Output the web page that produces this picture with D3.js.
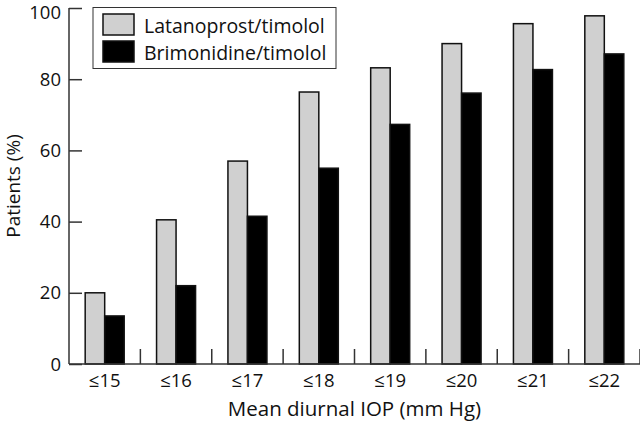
<!DOCTYPE html>
<html><head><meta charset="utf-8">
<script src="https://cdn.jsdelivr.net/npm/d3@7"></script>
<style>body{margin:0;background:#fff}svg{display:block}text{font-family:"Century Gothic","Open Sans",Lato,sans-serif;fill:#111}</style>
</head><body><svg id="c" width="640" height="422"></svg>
<script>
const categories = ["≤15","≤16","≤17","≤18","≤19","≤20","≤21","≤22"];
const latanoprost = [20, 40.5, 57, 76.4, 83.2, 90, 95.6, 97.8];
const brimonidine = [13.5, 22, 41.5, 55, 67.3, 76.1, 82.7, 87.1];
const seriesNames = ["Latanoprost/timolol","Brimonidine/timolol"];
const yTicks = [0,20,40,60,80,100];

const svg = d3.select("#c");
const L = 69, R = 640, T = 8, B = 364;
const x = d3.scaleBand().domain(categories).range([L, R]).paddingInner(0).paddingOuter(0);
const y = d3.scaleLinear().domain([0,100]).range([B, T]);
const inner = d3.scaleBand().domain([0,1]).range([0, x.bandwidth()]).paddingOuter(0.83).paddingInner(0);
const colors = ["#d0d0d0","#000"];

// bars
const g = svg.append("g");
categories.forEach((c,i) => {
  [latanoprost[i], brimonidine[i]].forEach((v,s) => {
    g.append("rect")
      .attr("x", x(c) + inner(s))
      .attr("y", y(v))
      .attr("width", inner.bandwidth())
      .attr("height", y(0) - y(v))
      .attr("fill", colors[s])
      .attr("stroke", "#111").attr("stroke-width", 1.5);
  });
});

// y axis
const ya = svg.append("g").attr("transform", `translate(${L},0)`)
  .call(d3.axisRight(y).tickValues(yTicks).tickSize(13).tickFormat(""));
ya.select(".domain").attr("d", `M0,${T}V${B}`).attr("stroke","#333").attr("stroke-width",1.5);
ya.selectAll(".tick line").attr("stroke","#333").attr("stroke-width",1.5);
svg.append("g").selectAll("text").data(yTicks).join("text")
  .attr("x", 61).attr("y", d => Math.max(y(d), 12)).attr("dy","0.36em")
  .attr("text-anchor","end").attr("font-size", 18.5).text(d => d);

// x axis
const xa = svg.append("g").attr("transform", `translate(0,${B})`)
  .call(d3.axisBottom(x).tickSize(0).tickFormat(""));
xa.select(".domain").attr("d", `M${L},0H${R}`).attr("stroke","#333").attr("stroke-width",1.5);
svg.append("g").selectAll("line").data(categories).join("line")
  .attr("x1", d => x(d) + x.bandwidth()).attr("x2", d => x(d) + x.bandwidth())
  .attr("y1", B).attr("y2", B - 15).attr("stroke","#333").attr("stroke-width",1.5);
svg.append("g").selectAll("text").data(categories).join("text")
  .attr("x", d => x(d) + x.bandwidth()/2).attr("y", 387)
  .attr("text-anchor","middle").attr("font-size", 18.5).text(d => d);

svg.append("text").attr("x", (L+R)/2).attr("y", 416).attr("text-anchor","middle")
  .attr("font-size", 20.5).text("Mean diurnal IOP (mm Hg)");
svg.append("text").attr("transform", `translate(20,${(T+B)/2}) rotate(-90)`)
  .attr("text-anchor","middle").attr("font-size", 19).text("Patients (%)");

// legend
const lg = svg.append("g");
lg.append("rect").attr("x", 93).attr("y", 7.5).attr("width", 243).attr("height", 61)
  .attr("fill","#fff").attr("stroke","#333").attr("stroke-width",1);
seriesNames.forEach((n,i) => {
  lg.append("rect").attr("x", 103).attr("y", 14 + i*27).attr("width", 31).attr("height", 21)
    .attr("fill", colors[i]).attr("stroke","#111").attr("stroke-width",1.5);
  lg.append("text").attr("x", 144).attr("y", 32.5 + i*27.5)
    .attr("font-size", 19.5).text(n);
});
</script></body></html>
